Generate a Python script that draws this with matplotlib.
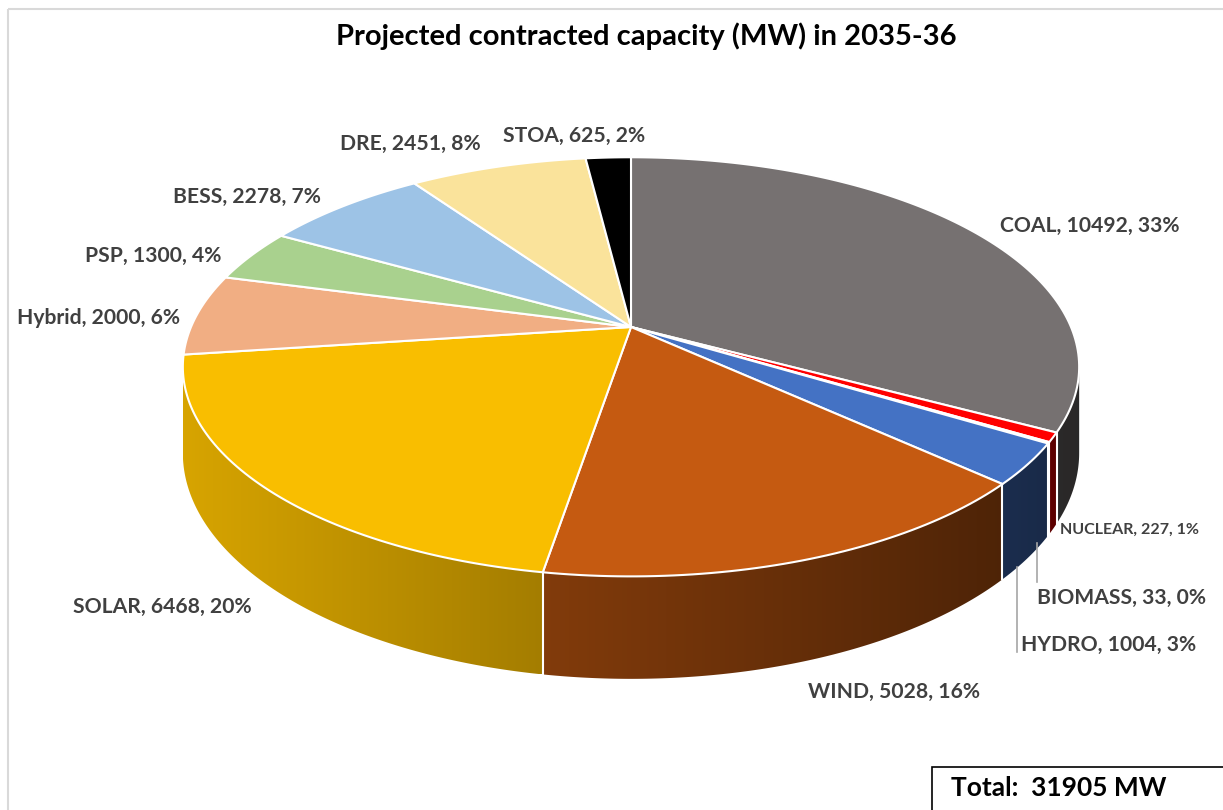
import numpy as np
import matplotlib.pyplot as plt
from matplotlib.patches import Polygon, Rectangle
from matplotlib.colors import to_rgb

# data (clockwise from 12 o'clock)
categories = ['COAL', 'NUCLEAR', 'BIOMASS', 'HYDRO', 'WIND', 'SOLAR',
              'Hybrid', 'PSP', 'BESS', 'DRE', 'STOA']
capacity_mw = [10492, 227, 33, 1004, 5028, 6468, 2000, 1300, 2278, 2451, 625]
percent_labels = ['33%', '1%', '0%', '3%', '16%', '20%', '6%', '4%', '7%', '8%', '2%']
total_mw = 31905
colors = ['#767171', '#FF0000', '#B00000', '#4472C4', '#C55A11', '#F9BE00',
          '#F1AE83', '#A9D18E', '#9DC3E6', '#FAE39B', '#000000']

# label anchors (left edge, vertical centre) in figure pixels
label_pos = {
    'COAL': (1000, 226), 'NUCLEAR': (1060, 530), 'BIOMASS': (1037, 598),
    'HYDRO': (1021, 645), 'WIND': (808, 692), 'SOLAR': (73, 607),
    'Hybrid': (17, 318), 'PSP': (85, 256), 'BESS': (173, 197),
    'DRE': (340, 144), 'STOA': (503, 136),
}

W, H = 1223, 810
CX, CY = 631, 327      # pie centre on screen
RX, RY = 440, 202      # horizontal / vertical radius
PERSP = 0.19           # perspective strength
DEPTH = 83             # thickness of the pie
TEXT = '#404040'
FONT = 'Lato'


def project(theta, z=0.0):
    x, y = np.cos(theta), np.sin(theta)
    w = 1 + PERSP * y
    return CX + RX * x / w, CY - RY * y / w + DEPTH * z / w


def shade_factor(sx):
    return np.clip(0.86 - (sx - 190) * 0.00057, 0.3, 1.0)


fig = plt.figure(figsize=(W / 100, H / 100), dpi=100)
ax = fig.add_axes([0, 0, 1, 1])

# chart area border
ax.add_patch(Rectangle((8, 9), W, H, fill=False, edgecolor='#D9D9D9', lw=1.5))

values = np.asarray(capacity_mw, dtype=float)
cum = np.concatenate([[0], np.cumsum(values / values.sum())])
edges = np.deg2rad(90 - 360 * cum)

# visible front part of the outer wall
t_right = -np.arcsin(PERSP)
t_left = -np.pi + np.arcsin(PERSP)

# side walls: one polygon per slice, filled with a left-to-right gradient
for i, col in enumerate(colors):
    a0 = min(edges[i], t_right)
    a1 = max(edges[i + 1], t_left)
    if a0 <= a1:
        continue
    ts = np.linspace(a0, a1, max(3, int(np.degrees(a0 - a1)) * 2 + 2))
    pts = [project(t) for t in ts] + [project(t, 1) for t in ts[::-1]]
    wall = Polygon(pts, closed=True, facecolor='none', edgecolor='none')
    ax.add_patch(wall)
    xs = np.array([p[0] for p in pts])
    ys = np.array([p[1] for p in pts])
    gx = np.linspace(xs.min(), xs.max(), 256)
    grad = np.array(to_rgb(col))[None, None, :] * shade_factor(gx)[None, :, None]
    img = ax.imshow(grad, extent=(xs.min(), xs.max(), ys.max(), ys.min()),
                    aspect='auto', interpolation='bilinear')
    img.set_clip_path(wall)

# white separators on visible wall edges
for t in edges[:-1]:
    if t_left < t < t_right:
        (x0, y0), (x1, y1) = project(t), project(t, 1)
        ax.plot([x0, x1], [y0, y1], color='white', lw=1.5)

# top face
for i, col in enumerate(colors):
    ts = np.linspace(edges[i], edges[i + 1], max(3, int(np.degrees(edges[i] - edges[i + 1])) + 2))
    pts = [(CX, CY)] + [project(t) for t in ts]
    ax.add_patch(Polygon(pts, closed=True, facecolor=col, edgecolor='white',
                         lw=1.5, joinstyle='round'))

# data labels
for name, v, pct in zip(categories, capacity_mw, percent_labels):
    x, y = label_pos[name]
    size = 11.5 if name == 'NUCLEAR' else 15.2
    ax.text(x, y, f'{name}, {v}, {pct}', ha='left', va='center', fontsize=size,
            fontweight='bold', color=TEXT, family=FONT)

# leader lines for the thin slices
ax.plot([1037, 1037], [543, 582], color='#A6A6A6', lw=1.2)
ax.plot([1017, 1017], [567, 652], color='#A6A6A6', lw=1.2)

ax.text(646, 36, 'Projected contracted capacity (MW) in 2035-36', ha='center',
        va='center', fontsize=21, fontweight='bold', color='black', family=FONT)

ax.add_patch(Rectangle((932, 767), 400, 100, facecolor='white', edgecolor='black', lw=1.2))
ax.text(951, 788, f'Total:  {total_mw} MW', ha='left', va='center', fontsize=19,
        fontweight='bold', color='black', family=FONT)

ax.set_xlim(0, W)
ax.set_ylim(H, 0)
ax.axis('off')

fig.savefig('out.png', dpi=100)
